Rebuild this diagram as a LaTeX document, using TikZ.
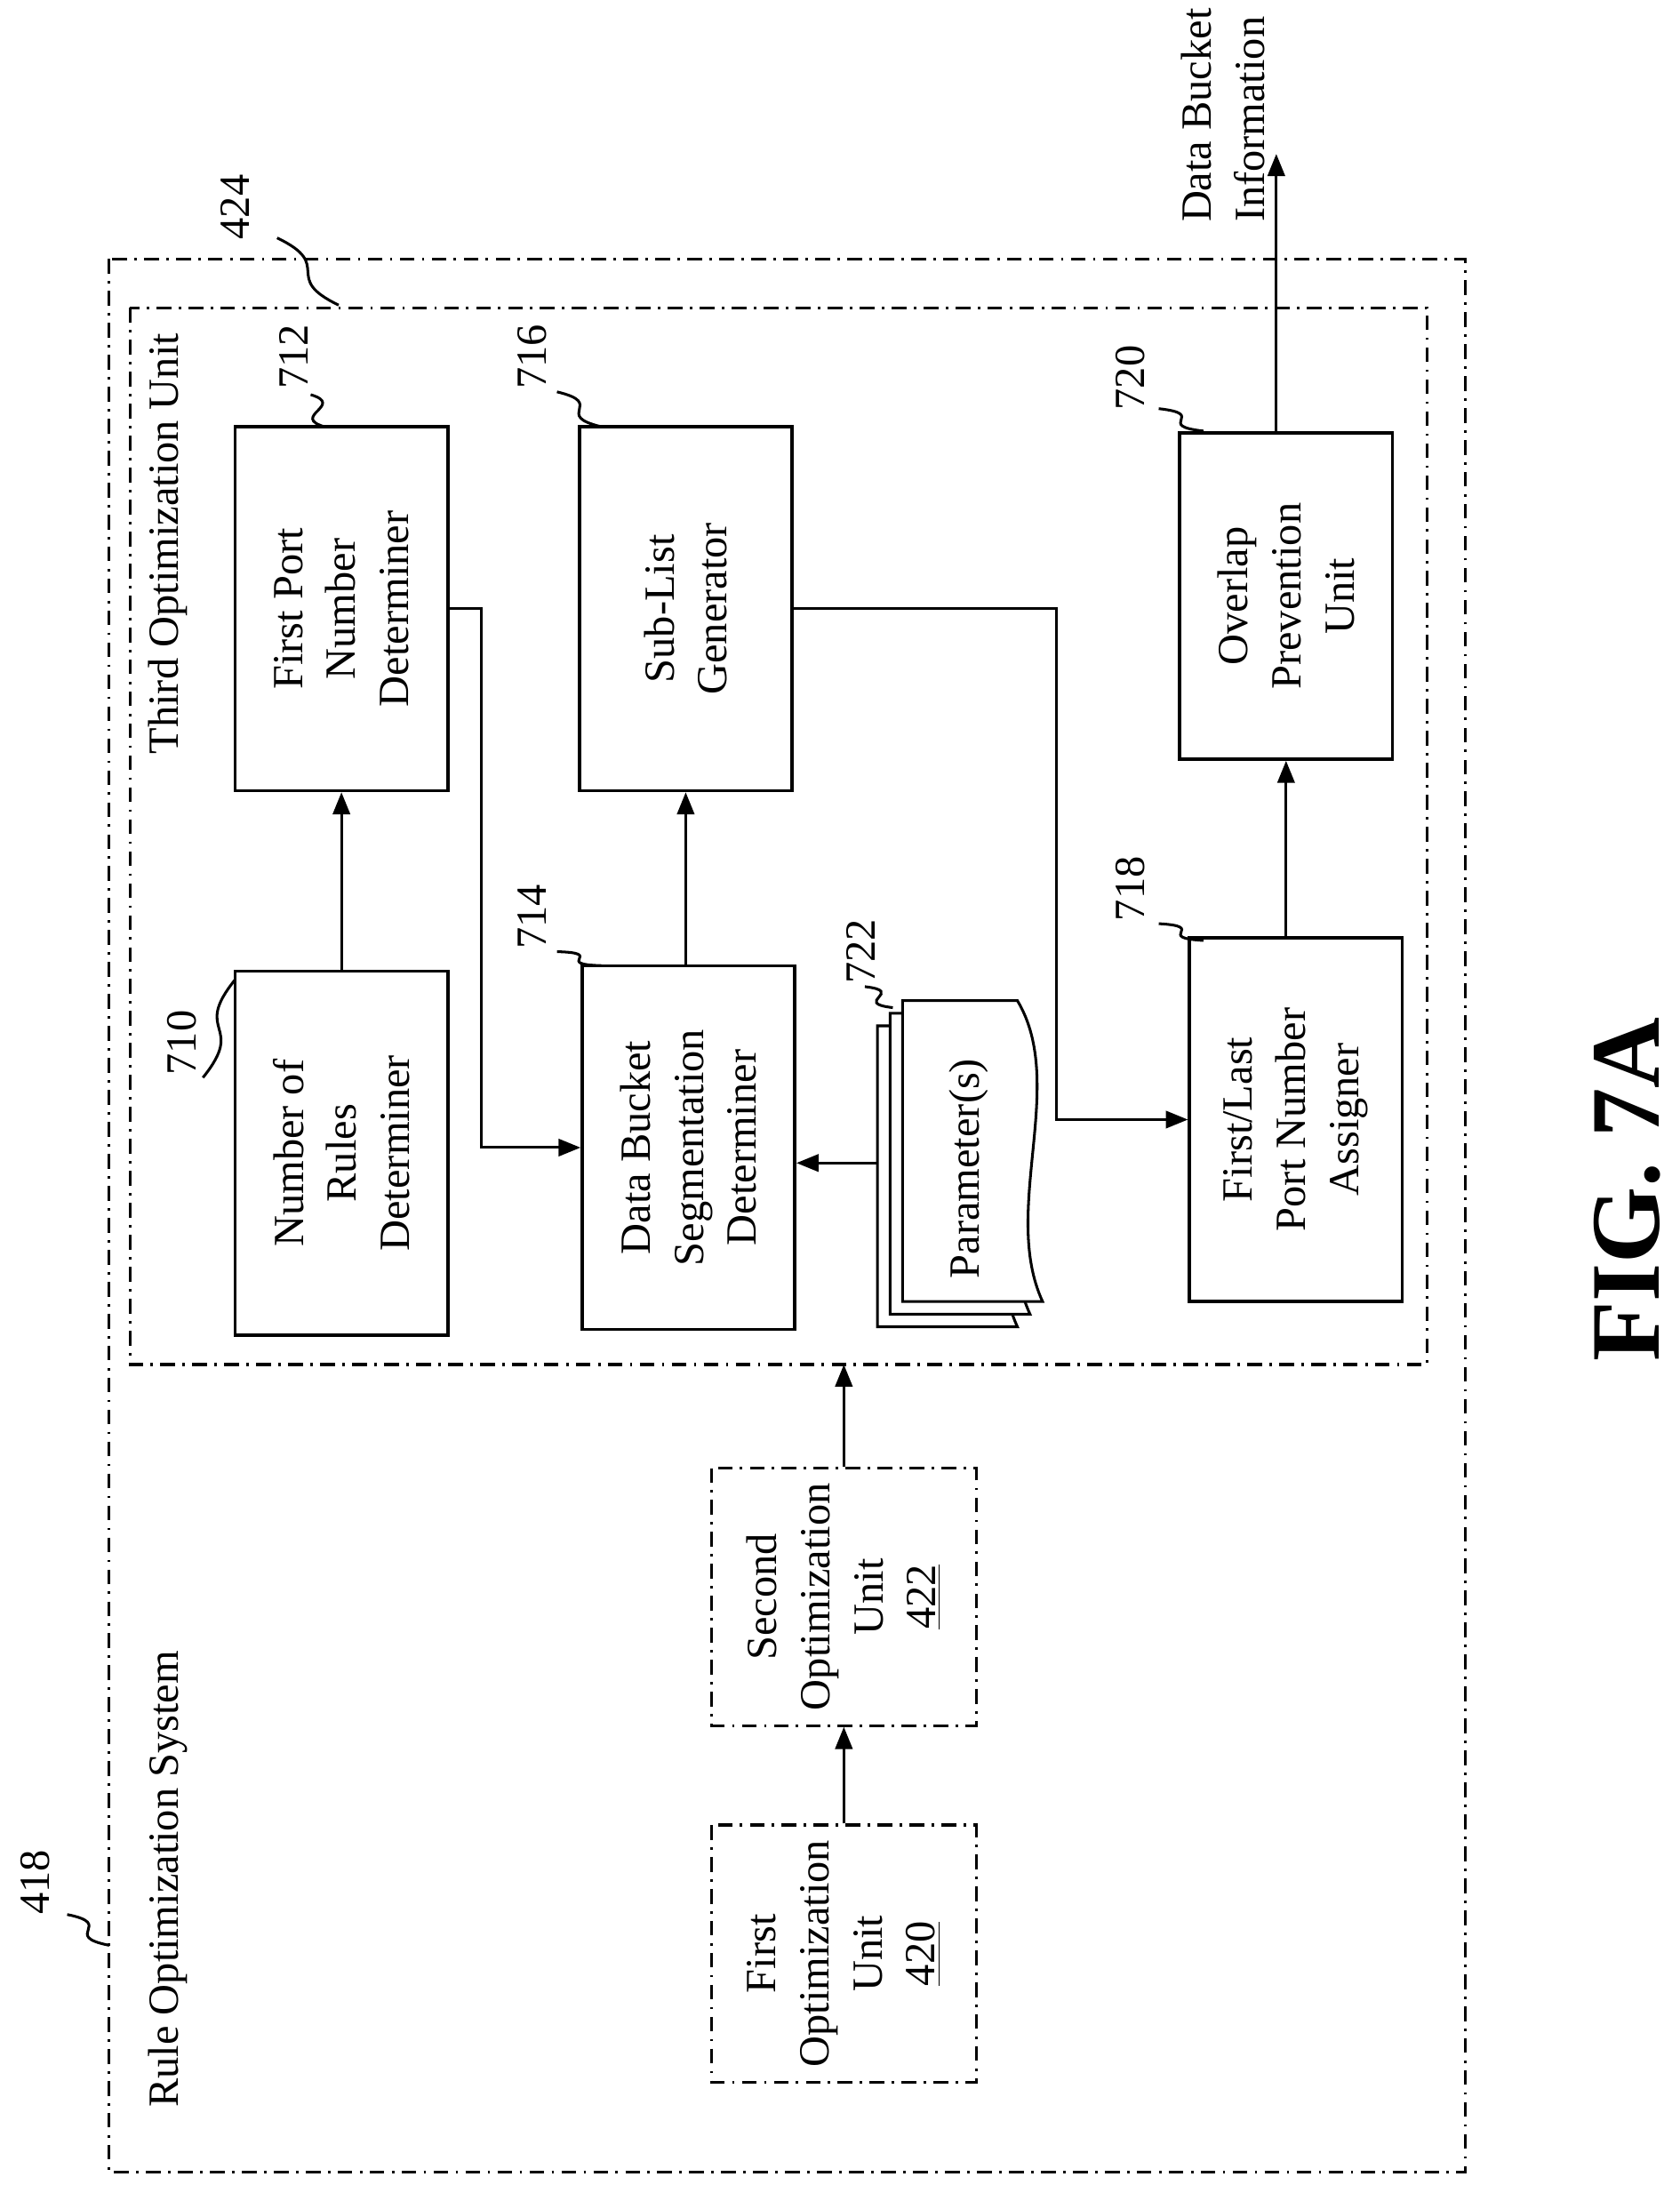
\documentclass[tikz,border=0pt]{standalone}
\usepackage{fontspec}
\setmainfont{Liberation Serif}
\usetikzlibrary{arrows.meta,calc}
\tikzset{
  x=0.02cm, y=-0.02cm,
  txt/.style={rotate=90, font=\fontsize{17.5}{21.6}\selectfont, align=center},
  box/.style={txt, draw, line width=1.3pt, minimum width=5.2cm, minimum height=3.04cm, inner sep=2pt},
  dbox/.style={box, dashdot, minimum width=3.68cm, minimum height=3.78cm},
  dashdot/.style={line width=1.1pt, dash pattern=on 6pt off 3pt on 1pt off 3pt},
  arr/.style={line width=1.1pt, -{Triangle[length=9pt,width=7pt]}},
  lead/.style={line width=1.1pt},
}
\newcommand\leadline[2]{\draw[lead] (#1) .. controls ($(#1)!.5!(#2)+(20,-4)$) and ($(#1)!.5!(#2)+(-20,4)$) .. (#2);}
\newcommand\docsheet[2]{\draw[line width=1.1pt, fill=white] (#1,#2) -- (#1+82,#2) .. controls (#1+118,#2+60) and (#1+70,#2+150) .. (#1+100,#2+215) -- (#1,#2+215) -- cycle;}
\begin{document}
\begin{tikzpicture}
\useasboundingbox (0,0) rectangle (1200,1567);
% frames
\draw[dashdot] (78,185) rectangle (1047,1552);
\draw[dashdot] (93,220) rectangle (1020,975);
\node[txt, anchor=west] (t418) at (120,1512) {Rule Optimization System};
\node[txt, anchor=west] (t424) at (120,545) {Third Optimization Unit};
% blocks
\node[box] (b710) at (244,824) {Number of\\Rules\\Determiner};
\node[box] (b712) at (244,435) {First Port\\Number\\Determiner};
\node[box] (b714) at (492,820) {Data Bucket\\Segmentation\\Determiner};
\node[box] (b716) at (490,435) {Sub-List\\Generator};
\node[box] (b718) at (926,800) {First/Last\\Port Number\\Assigner};
\node[box, minimum width=4.66cm] (b720) at (919,426) {Overlap\\Prevention\\Unit};
\node[dbox] (b422) at (603,1141) {Second\\Optimization\\Unit\\\underline{422}};
\node[dbox] (b420) at (603,1396) {First\\Optimization\\Unit\\\underline{420}};
% parameters
\docsheet{627}{733}
\docsheet{636}{724}
\docsheet{645}{715}
\node[txt] at (692,835) {Parameter(s)};
\node[rotate=90, minimum width=4.64cm, minimum height=2.36cm] (p722) at (686,831) {};
% connectors
\draw[arr] (b710.east) -- (b712.west);
\draw[arr] (b712.south) -- ++(23,0) |- (b714.north);
\draw[arr] (b714.east -| b716.west) -- (b716.west);
\draw[arr] (p722.north) -- (p722.north -| b714.south);
\draw[arr] (b716.south) -- ++(188,0) |- (b718.north);
\draw[arr] (b718.east -| b720.west) -- (b720.west);
\coordinate (out) at (912,110);
\draw[arr] (b720.east -| out) -- (out);
\node[txt, anchor=north west, align=left] (t_out) at (838,165) {Data Bucket\\Information};
\draw[arr] (b420.east) -- (b422.west);
\coordinate (in424) at (603,975);
\draw[arr] (b422.east) -- (in424);
% reference numerals
\node[txt] (n418) at (25,1345) {418};
\node[txt] (n424) at (168,148) {424};
\node[txt] (n710) at (130,745) {710};
\node[txt] (n712) at (210,255) {712};
\node[txt] (n714) at (380,655) {714};
\node[txt] (n716) at (380,255) {716};
\node[txt] (n718) at (808,635) {718};
\node[txt] (n720) at (808,270) {720};
\node[txt] (n722) at (615,680) {722};
\leadline{48,1368}{78,1390}
\leadline{198,170}{242,218}
\leadline{145,770}{168,700}
\leadline{222,282}{232,305}
\leadline{398,680}{430,690}
\leadline{398,280}{430,305}
\leadline{828,660}{860,672}
\leadline{828,292}{860,308}
\leadline{618,705}{638,720}
% figure label
\node[rotate=90, font=\fontsize{40}{48}\selectfont\bfseries] (fig) at (1163,850) {FIG. 7A};
\end{tikzpicture}
\end{document}
